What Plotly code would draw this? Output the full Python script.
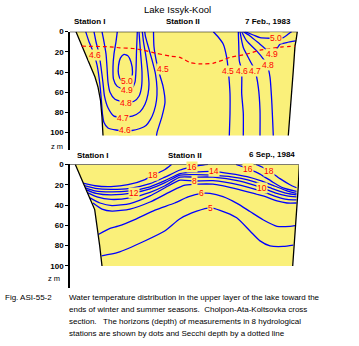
import plotly.graph_objects as go

W, H = 359, 346

YELLOW = "#FAF07A"
BLUE = "#0000FF"
RED = "#FF0000"
FONT = "Liberation Sans"

# ---------------- 7 Feb 1983 section (x: relative distance, z: depth m) ----------------
feb_left_bank_x = [6, 11, 16, 21, 25, 28, 30.5, 32, 32.7, 33]
feb_left_bank_z = [0, 12, 24, 35, 45, 55, 68, 85, 97, 103]
feb_right_bank_x = [227.3, 226, 225, 223.3, 221.7, 220, 218.3]
feb_right_bank_z = [0, 9, 14, 38.5, 61.5, 81, 103]

# isotherms, deg C
feb_t50_x = [56, 61, 62.5, 61, 58, 54, 50.5, 48.5, 48.5, 51, 56]
feb_t50_z = [50, 47, 40, 30, 24, 22.5, 26, 34, 42, 48, 50]
feb_t49_x = [47.3, 46, 44, 43, 43.5, 47, 55.7, 62, 65, 66, 66.5, 67.3]
feb_t49_z = [0, 10, 22, 35, 47, 54, 57.5, 56, 50, 38, 20, 0]
feb_t48_x = [32, 34, 36, 37, 38, 40, 45, 55.7, 64, 69, 71.5, 72, 70.5, 69]
feb_t48_z = [0, 10, 22, 35, 50, 60, 67, 70, 69, 64, 55, 40, 20, 0]
feb_t47_x = [24, 26, 29, 31, 33, 34.5, 38, 44, 53.3, 62.3, 70, 75, 78, 79, 78, 76, 73.5, 72.3]
feb_t47_z = [0, 10, 22, 35, 51, 64, 75.5, 83.7, 84.5, 83.7, 79.5, 72, 62, 52, 40, 25, 10, 0]
feb_t46_x = [15.7, 19, 24, 27, 29, 30.5, 31.5, 32.5, 34, 38, 46, 55, 62, 70, 76, 80.5, 84, 86.5, 87, 85.5, 82, 78, 75.5, 74.7]
feb_t46_z = [0, 10, 22, 33, 45, 58, 70, 82, 90, 95.5, 97.5, 98, 98, 96, 93, 87, 79, 68, 56, 42, 28, 14, 5, 0]
feb_t45a_x = [83.5, 84, 86.5, 89.5, 93, 95, 92, 87, 86.5]
feb_t45a_z = [0, 15, 30, 42, 54, 70, 84, 100, 103]
feb_t45b_x = [143.3, 148, 153.3, 156.7, 158.3, 160, 160, 159.3]
feb_t45b_z = [0, 5, 12.4, 25.5, 38.5, 61.4, 81, 103]
feb_t46b_x = [168.3, 168.8, 169.3, 171.7, 171.7, 173.3, 173.3]
feb_t46b_z = [0, 15, 28.8, 38.5, 61.4, 81, 103]
feb_t47b_x = [170, 173.3, 180, 185, 188.3, 190, 190]
feb_t47b_z = [0, 15.7, 28.8, 38.5, 54.9, 77.8, 103]
feb_t48b_x = [171.7, 176.7, 186.7, 194, 197.5, 200, 201.7, 203.3]
feb_t48b_z = [0, 9.2, 19, 28, 34, 45, 68, 103]
feb_t49b_x = [173.3, 180, 190, 196.7, 201.5, 205, 207.5, 210, 216.7, 225.7]
feb_t49b_z = [0, 4.2, 12.4, 18, 22.5, 20.5, 16, 12.4, 10.8, 9.2]
feb_t50b_x = [175, 183.3, 190, 200, 206, 213.3, 220, 221.7]
feb_t50b_z = [0, 3.3, 5.9, 6.5, 6.5, 5.9, 1, 0]

feb_isotherms = [
    (feb_t50_x, feb_t50_z), (feb_t49_x, feb_t49_z), (feb_t48_x, feb_t48_z),
    (feb_t47_x, feb_t47_z), (feb_t46_x, feb_t46_z), (feb_t45a_x, feb_t45a_z),
    (feb_t45b_x, feb_t45b_z), (feb_t46b_x, feb_t46b_z), (feb_t47b_x, feb_t47b_z),
    (feb_t48b_x, feb_t48b_z), (feb_t49b_x, feb_t49b_z), (feb_t50b_x, feb_t50b_z),
]

# Secchi depth
feb_secchi_x = [11.7, 40, 50, 63, 73, 86.7, 100, 110, 120, 130, 143, 153, 160, 176.7, 190, 200, 213, 225]
feb_secchi_z = [14.4, 15, 16, 16.7, 18.3, 21.6, 24.2, 25.5, 30.7, 32, 31.4, 28.1, 25.5, 22.3, 18.3, 16.7, 15, 14.4]

feb_label_text = ["4.6", "5.0", "4.9", "4.8", "4.7", "4.6", "4.5", "4.5", "4.6", "4.7", "4.8", "4.9", "5.0"]
feb_label_x = [25, 56.5, 56.5, 56, 52.5, 55, 93.3, 158.3, 171.7, 185, 197.5, 201.5, 206]
feb_label_z = [23, 49.3, 58.2, 70.6, 85.3, 97.7, 37.3, 38.5, 38.5, 38.5, 33.5, 22.5, 6.5]

# ---------------- 6 Sep 1984 section ----------------
sep_left_bank_x = [5.3, 13, 19.7, 24.7, 27.3, 29.7, 32]
sep_left_bank_z = [0, 16.9, 33, 44.5, 60.8, 80.2, 100]
sep_right_bank_x = [229.3, 228.3, 226, 224.3, 222.7]
sep_right_bank_z = [0, 21.8, 57.4, 80.2, 100]

sep_t18a_x = [13, 25, 41, 58, 75, 83, 90, 95, 101.5]
sep_t18a_z = [18.5, 21, 21.8, 20, 15, 10.4, 7.5, 5, 0]
sep_t18b_x = [186, 193, 199.3, 210, 220, 226.5]
sep_t18b_z = [0, 3, 6.5, 14, 20, 23]
sep_t16a_x = [14.5, 25, 41, 60, 80, 95, 110, 121, 130, 138]
sep_t16a_z = [21, 23.5, 24.5, 23.5, 19, 12.5, 5.5, 2.8, 1, 0]
sep_t16b_x = [166, 172, 178.3, 190, 203, 213, 226.5]
sep_t16b_z = [0, 2, 4.4, 9.5, 17.5, 23, 26.5]
sep_t14_x = [15.5, 25, 41, 60, 80, 95, 110, 125, 144, 160, 177, 192, 205, 217, 226.5]
sep_t14_z = [23, 26, 27, 26, 22, 16, 9, 7.5, 7, 9, 12, 16.5, 21.5, 26, 28.5]
sep_t12_x = [16.5, 26, 41, 64, 80, 95, 110, 125, 143, 170, 187, 203, 217, 226.5]
sep_t12_z = [25, 28.5, 30, 27.8, 24, 18, 10.5, 10, 10.5, 13.5, 18, 24, 28.5, 30]
sep_t10_x = [18, 27, 41, 60, 80, 95, 110, 125, 143, 170, 191.7, 205, 217, 226.5]
sep_t10_z = [28, 32, 34.5, 33, 27.5, 21, 12.5, 12.5, 12.5, 16.5, 23, 28, 31, 32]
sep_t8_x = [20, 30, 42, 60, 80, 95, 110, 124, 143, 170, 193, 207, 217, 226.5]
sep_t8_z = [33, 38, 40.5, 38.5, 31, 23, 15.5, 16.3, 16, 20.5, 27, 32, 34.5, 35]
sep_t7_x = [23, 32, 42, 60, 80, 100, 115, 143, 170, 193, 207, 217, 226.5]
sep_t7_z = [38, 44, 46, 44, 37, 27, 20.5, 19.5, 25, 31, 36, 38, 38]
sep_t6_x = [28.3, 40, 48, 64.7, 85, 104.7, 118, 131.7, 140, 153, 167, 180, 193, 207, 220, 225]
sep_t6_z = [69, 63, 60.8, 54.3, 45, 38, 32, 28.6, 28.6, 31.8, 38.4, 46.4, 54.5, 61, 61, 60.3]
sep_t5_x = [31.7, 48, 74.7, 94.7, 110, 126.7, 140, 150, 166.7, 180, 190, 200, 213.3, 223.3]
sep_t5_z = [90, 86.7, 75.4, 65.6, 53.5, 46.1, 42.8, 45.2, 52.6, 65.6, 75.3, 80.2, 80.8, 79.5]

sep_isotherms = [
    (sep_t18a_x, sep_t18a_z), (sep_t18b_x, sep_t18b_z), (sep_t16a_x, sep_t16a_z),
    (sep_t16b_x, sep_t16b_z), (sep_t14_x, sep_t14_z), (sep_t12_x, sep_t12_z),
    (sep_t10_x, sep_t10_z), (sep_t8_x, sep_t8_z), (sep_t7_x, sep_t7_z),
    (sep_t6_x, sep_t6_z), (sep_t5_x, sep_t5_z),
]

sep_label_text = ["18", "12", "16", "14", "8", "6", "5", "16", "18", "10"]
sep_label_x = [83.3, 64.3, 121.7, 144, 124, 131.7, 140, 178.3, 199.3, 191.7]
sep_label_z = [10.7, 27.9, 2.6, 6.8, 16.3, 28.6, 42.6, 4.3, 6.5, 22.8]

depth_ticks = [0, 20, 40, 60, 80, 100]

caption_lines = [
    "Water temperature distribution in the upper layer of the lake toward the",
    "ends of winter and summer seasons.  Cholpon-Ata-Koltsovka cross",
    "section.   The horizons (depth) of measurements in 8 hydrological",
    "stations are shown by dots and Secchi depth by a dotted line",
]

fig = go.Figure()


def px_x(p):
    return p / W


def px_y(p):
    return 1 - p / H


def draw_section(xa, ya, lbx, lbz, rbx, rbz, isotherms, lab_t, lab_x, lab_z):
    # water body
    fig.add_trace(go.Scatter(
        x=lbx + rbx[::-1], y=lbz + rbz[::-1], mode="lines", fill="toself",
        fillcolor=YELLOW, line=dict(width=0), xaxis=xa, yaxis=ya,
        hoverinfo="skip", showlegend=False))
    for ix, iz in isotherms:
        fig.add_trace(go.Scatter(
            x=ix, y=iz, mode="lines", xaxis=xa, yaxis=ya, showlegend=False,
            line=dict(color=BLUE, width=1.3, shape="spline", smoothing=0.6),
            hoverinfo="skip"))
    # shore lines and surface
    fig.add_trace(go.Scatter(
        x=lbx, y=lbz, mode="lines", xaxis=xa, yaxis=ya, showlegend=False,
        line=dict(color="black", width=1.3), hoverinfo="skip"))
    fig.add_trace(go.Scatter(
        x=[0] + rbx, y=[0] + rbz, mode="lines", xaxis=xa, yaxis=ya,
        showlegend=False, line=dict(color="black", width=1.3), hoverinfo="skip"))
    for t, lx, lz in zip(lab_t, lab_x, lab_z):
        fig.add_annotation(
            x=lx, y=lz, xref=xa, yref=ya, text=t, showarrow=False,
            font=dict(family=FONT, size=8.5, color=RED), bgcolor=YELLOW,
            borderpad=0)


draw_section("x", "y", feb_left_bank_x, feb_left_bank_z, feb_right_bank_x,
             feb_right_bank_z, feb_isotherms, feb_label_text, feb_label_x, feb_label_z)
fig.add_trace(go.Scatter(
    x=feb_secchi_x, y=feb_secchi_z, mode="lines", showlegend=False,
    line=dict(color=RED, width=1.2, dash="4px,3px", shape="spline", smoothing=0.5),
    hoverinfo="skip"))
draw_section("x2", "y2", sep_left_bank_x, sep_left_bank_z, sep_right_bank_x,
             sep_right_bank_z, sep_isotherms, sep_label_text, sep_label_x, sep_label_z)

xdom = [px_x(70), px_x(299)]
yaxis_common = dict(
    showline=True, linecolor="black", linewidth=1.5, ticks="outside", ticklen=3,
    tickcolor="black", tickvals=depth_ticks, showgrid=False, zeroline=False,
    tickfont=dict(family=FONT, size=8, color="black", weight="bold"),
)
fig.update_layout(
    width=W, height=H, margin=dict(l=0, r=0, t=0, b=0),
    paper_bgcolor="white", plot_bgcolor="rgba(0,0,0,0)",
    xaxis=dict(domain=xdom, range=[0, 229], visible=False),
    xaxis2=dict(domain=xdom, range=[0, 229], visible=False, anchor="y2"),
    yaxis=dict(domain=[px_y(148), px_y(28)], range=[117.6, 0], anchor="x", **yaxis_common),
    yaxis2=dict(domain=[px_y(287), px_y(162.3)], range=[121.4, 0], anchor="x2", **yaxis_common),
)

bold8 = dict(family=FONT, size=8, color="black", weight="bold")


def text(s, x, y, font, xanchor="center"):
    fig.add_annotation(x=px_x(x), y=px_y(y), xref="paper", yref="paper", text=s,
                       showarrow=False, font=font, xanchor=xanchor, yanchor="middle")


text("Lake Issyk-Kool", 177, 6, dict(family=FONT, size=9.5, color="black"))
text("Station I", 90, 18, bold8)
text("Station II", 183, 18, bold8)
text("7 Feb., 1983", 293, 18, bold8, xanchor="right")
text("z m", 65, 144, dict(family=FONT, size=7.5, color="black"), xanchor="right")
text("Station I", 92.5, 153.3, bold8)
text("Station II", 185, 153.3, bold8)
text("6 Sep., 1984", 297, 152.7, bold8, xanchor="right")
text("z m", 62, 278, dict(family=FONT, size=7.5, color="black"), xanchor="right")

cap_font = dict(family=FONT, size=8, color="black")
text("Fig. ASI-55-2", 3.3, 297, cap_font, xanchor="left")
for i, line in enumerate(caption_lines):
    text(line, 66.7, 297 + 12 * i, cap_font, xanchor="left")

fig.write_html("out.html")
